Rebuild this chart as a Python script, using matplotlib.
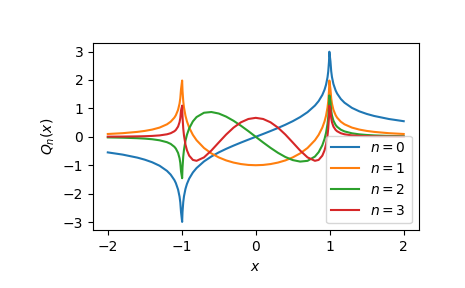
import matplotlib
matplotlib.use("Agg")
import matplotlib.pyplot as plt
from matplotlib.ticker import MultipleLocator

# sample points (dense near the singularities at x = +-1)
x = [-2.0, -1.8, -1.6, -1.5, -1.4, -1.3, -1.2, -1.15, -1.1, -1.08, -1.05, -1.03,
     -1.02, -1.01, -0.995, -0.99, -0.98, -0.97, -0.95, -0.93, -0.9, -0.85,
     -0.8, -0.7, -0.6, -0.5, -0.4, -0.3, -0.2, -0.1, 0.0,
     0.1, 0.2, 0.3, 0.4, 0.5, 0.6, 0.7, 0.8, 0.85, 0.9, 0.93, 0.95, 0.97, 0.98,
     0.99, 0.995, 1.01, 1.02, 1.03, 1.05, 1.08, 1.1, 1.15, 1.2, 1.3, 1.4,
     1.5, 1.6, 1.8, 2.0]

q0 = [-0.549, -0.626, -0.733, -0.805, -0.896, -1.018, -1.199, -1.331, -1.522, -1.629,
      -1.857, -2.107, -2.308, -2.652, -2.994, -2.647, -2.298, -2.092, -1.832,
      -1.658, -1.472, -1.256, -1.099, -0.867, -0.693, -0.549, -0.424, -0.310, -0.203,
      -0.100, 0.0,
      0.100, 0.203, 0.310, 0.424, 0.549, 0.693, 0.867, 1.099, 1.256, 1.472, 1.658,
      1.832, 2.092, 2.298, 2.647, 2.994, 2.652, 2.308, 2.107, 1.857, 1.629,
      1.522, 1.331, 1.199, 1.018, 0.896, 0.805, 0.733, 0.626, 0.549]

q1 = [0.099, 0.127, 0.173, 0.207, 0.254, 0.324, 0.439, 0.531, 0.674, 0.759, 0.950,
      1.171, 1.354, 1.678, 1.980, 1.620, 1.252, 1.030, 0.740, 0.542, 0.325,
      0.068, -0.121, -0.393, -0.584, -0.725, -0.831, -0.907, -0.959, -0.990, -1.0,
      -0.990, -0.959, -0.907, -0.831, -0.725, -0.584, -0.393, -0.121, 0.068, 0.325,
      0.542, 0.740, 1.030, 1.252, 1.620, 1.980, 1.678, 1.354, 1.171, 0.950,
      0.759, 0.674, 0.531, 0.439, 0.324, 0.254, 0.207, 0.173, 0.127, 0.099]

q2 = [-0.021, -0.031, -0.049, -0.064, -0.086, -0.123, -0.190, -0.250, -0.352, -0.416,
      -0.567, -0.755, -0.917, -1.217, -1.457, -1.083, -0.691, -0.452, -0.139,
      0.073, 0.297, 0.542, 0.695, 0.846, 0.872, 0.819, 0.710, 0.563, 0.389, 0.199, 0.0,
      -0.199, -0.389, -0.563, -0.710, -0.819, -0.872, -0.846, -0.695, -0.542, -0.297,
      -0.073, 0.139, 0.452, 0.691, 1.083, 1.457, 1.217, 0.917, 0.755, 0.567,
      0.416, 0.352, 0.250, 0.190, 0.123, 0.086, 0.064, 0.049, 0.031, 0.021]

q3 = [0.005, 0.008, 0.015, 0.021, 0.031, 0.049, 0.088, 0.126, 0.195, 0.242, 0.360,
      0.515, 0.657, 0.929, 1.097, 0.706, 0.294, 0.044, -0.274, -0.474, -0.663,
      -0.813, -0.845, -0.725, -0.483, -0.199, 0.080, 0.323, 0.510, 0.627, 0.667,
      0.627, 0.510, 0.323, 0.080, -0.199, -0.483, -0.725, -0.845, -0.813, -0.663,
      -0.474, -0.274, 0.044, 0.294, 0.706, 1.097, 0.929, 0.657, 0.515, 0.360,
      0.242, 0.195, 0.126, 0.088, 0.049, 0.031, 0.021, 0.015, 0.008, 0.005]

series = [q0, q1, q2, q3]
labels = ["$n=0$", "$n=1$", "$n=2$", "$n=3$"]

fig, ax = plt.subplots(figsize=(4.65, 2.88), dpi=100)
fig.subplots_adjust(left=0.2, right=0.9, bottom=0.2, top=0.85)

for q, lab in zip(series, labels):
    ax.plot(x, q, label=lab)

ax.yaxis.set_major_locator(MultipleLocator(1))
ax.set_xlabel("$x$")
ax.set_ylabel("$Q_n(x)$")
ax.legend(loc="lower right")

fig.savefig("out.png")
